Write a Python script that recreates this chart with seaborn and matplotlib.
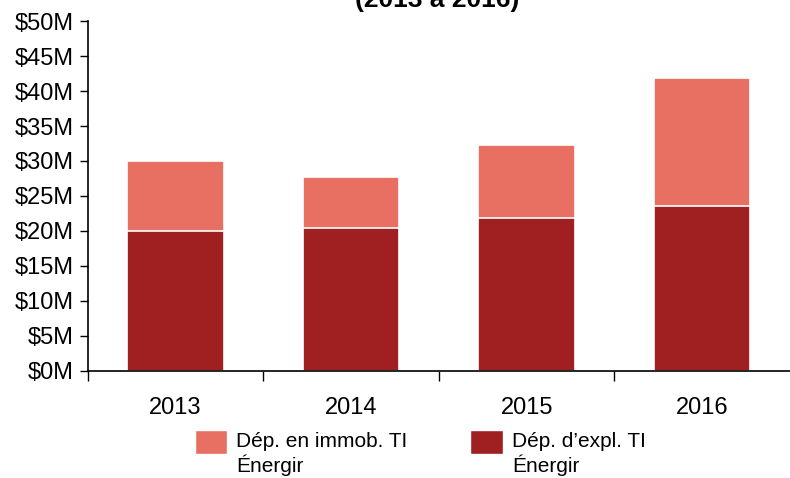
import matplotlib
matplotlib.use("Agg")
import matplotlib.pyplot as plt
from matplotlib.patches import Patch
import seaborn as sns
import pandas as pd

YEARS = ["2013", "2014", "2015", "2016"]
EXPL = [20.0, 20.4, 21.8, 23.5]      # Dép. d'expl. TI Énergir ($M)
IMMOB = [10.0, 7.3, 10.5, 18.3]      # Dép. en immob. TI Énergir ($M)
Y_TICKS = [0, 5, 10, 15, 20, 25, 30, 35, 40, 45, 50]

LABEL_IMMOB = "Dép. en immob. TI\nÉnergir"
LABEL_EXPL = "Dép. d’expl. TI\nÉnergir"
TITLE = "(2013 à 2016)"

DARK = "#A01F20"
LIGHT = "#E87063"


def main():
    sns.set_style("white")
    plt.rcParams["font.family"] = ["Liberation Sans", "DejaVu Sans"]
    plt.rcParams["text.color"] = "black"
    plt.rcParams["xtick.color"] = "black"
    plt.rcParams["ytick.color"] = "black"

    df = pd.DataFrame({"year": YEARS, "expl": EXPL, "immob": IMMOB})
    df["total"] = df["expl"] + df["immob"]

    fig = plt.figure(figsize=(7.9, 4.78), dpi=100)
    ax = fig.add_axes([0.111, 0.224, 0.889, 0.732])

    sns.barplot(data=df, x="year", y="total", color=LIGHT, width=0.55,
                edgecolor="white", linewidth=1.2, saturation=1, ax=ax)
    sns.barplot(data=df, x="year", y="expl", color=DARK, width=0.55,
                edgecolor="white", linewidth=1.2, saturation=1, ax=ax)

    ax.set_xlim(-0.5, 3.5)
    ax.set_ylim(0, 50)
    ax.set_yticks(Y_TICKS)
    ax.set_yticklabels([f"${v}M" for v in Y_TICKS], fontsize=17)
    ax.set_xlabel("")
    ax.set_ylabel("")

    # category boundaries carry the tick marks, labels sit between them
    ax.set_xticks([i - 0.5 for i in range(len(YEARS))])
    ax.set_xticklabels([])
    ax.set_xticks(range(len(YEARS)), minor=True)
    ax.set_xticklabels(YEARS, minor=True, fontsize=17)
    ax.tick_params(axis="x", which="major", direction="out", length=7,
                   width=1, color="black", bottom=True)
    ax.tick_params(axis="x", which="minor", length=0, pad=19)
    ax.tick_params(axis="y", direction="out", length=6, width=1,
                   color="black", left=True, pad=4)

    for side in ["top", "right"]:
        ax.spines[side].set_visible(False)
    for side in ["left", "bottom"]:
        ax.spines[side].set_color("black")
        ax.spines[side].set_linewidth(1.2)

    fig.text(0.553, 1.0, TITLE, ha="center", va="center",
             fontsize=19, fontweight="bold")

    handles = [Patch(facecolor=LIGHT, label=LABEL_IMMOB),
               Patch(facecolor=DARK, label=LABEL_EXPL)]
    leg = fig.legend(handles=handles, loc="center", ncol=2,
                     bbox_to_anchor=(0.532, 0.05), frameon=False, fontsize=15,
                     handlelength=1.55, handleheight=1.4, handletextpad=0.45,
                     columnspacing=3.0, borderaxespad=0)
    # swatches line up with the first line of each label
    for h in leg.legend_handles:
        h.set_y(h.get_y() + 9)

    fig.savefig("out.png", dpi=100)
    plt.close(fig)


if __name__ == "__main__":
    main()
